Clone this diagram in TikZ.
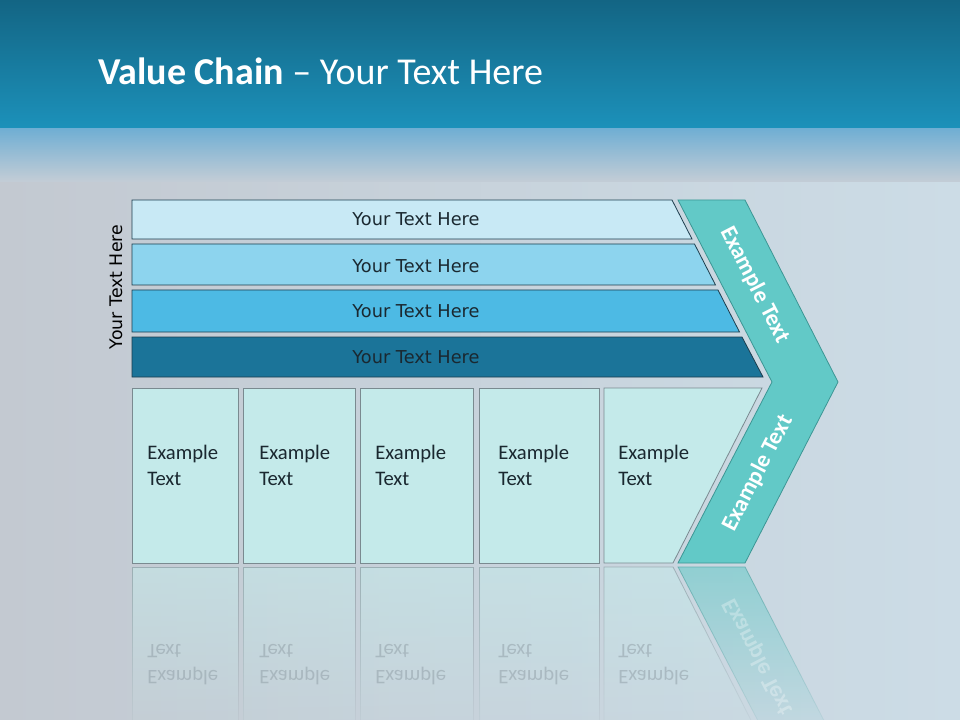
\documentclass[tikz,border=0pt]{standalone}
\usepackage{fontspec}
\setmainfont{Carlito}
\newfontfamily\dejavu{DejaVu Sans}
\usetikzlibrary{fadings}
\definecolor{bgtopA}{HTML}{136584}
\definecolor{bgtopB}{HTML}{1C91BA}
\definecolor{bgmidA}{HTML}{6FAED3}
\definecolor{bgmidB}{HTML}{C4CDD6}
\definecolor{bgleft}{HTML}{C3C9D1}
\definecolor{bgright}{HTML}{CCDCE6}
\definecolor{barA}{HTML}{C8E9F5}
\definecolor{barB}{HTML}{8DD4EE}
\definecolor{barC}{HTML}{4DBAE4}
\definecolor{barD}{HTML}{1B7499}
\definecolor{barline}{HTML}{1D3E4E}
\definecolor{boxfill}{HTML}{C4EAEA}
\definecolor{boxline}{HTML}{7A8A90}
\definecolor{chevfill}{HTML}{62C9C7}
\definecolor{chevline}{HTML}{3C9694}
\definecolor{darktext}{HTML}{1A2830}
\definecolor{refltext}{HTML}{8E9CA4}
\tikzfading[name=reflfade, top color=transparent!45, middle color=transparent!88, bottom color=transparent!100]
\tikzset{
  barshape/.style={draw=barline, line width=0.6pt},
  boxshape/.style={draw=boxline, fill=boxfill, line width=0.6pt},
  reflshape/.style={draw=boxline, fill=boxfill, line width=0.6pt, path fading=reflfade},
  bartext/.style={font=\dejavu\fontsize{13.3}{16}\selectfont, text=darktext},
  boxtext/.style={font=\fontsize{15.5}{19.5}\selectfont, text=darktext, align=left, anchor=west, inner sep=0pt},
  refltextstyle/.style={font=\fontsize{15.5}{19.5}\selectfont, text=refltext, align=left, anchor=west, inner sep=0pt, opacity=0.5},
  chevtext/.style={font=\bfseries\fontsize{17.5}{20}\selectfont, text=white, inner sep=1pt}
}
\begin{document}
\begin{tikzpicture}[x=0.75pt,y=-0.75pt]
\useasboundingbox (0,0) rectangle (960,720);
% background
\fill[left color=bgleft, right color=bgright] (0,180) rectangle (960,720);
\fill[top color=bgmidA, bottom color=bgmidB] (0,128) rectangle (960,182);
\fill[top color=bgtopA, bottom color=bgtopB] (0,0) rectangle (960,128);
% title
\node[anchor=base west, inner sep=0pt, text=white, font=\fontsize{28.5}{32}\selectfont] (title) at (98,85) {\textbf{Value Chain} -- Your Text Here};
% vertical label
\node[rotate=90, font=\dejavu\fontsize{13}{15}\selectfont, text=black] (side) at (116,287) {Your Text Here};
% bars
\path[barshape, fill=barA] (132,200) -- (672,200) -- (692,239) -- (132,239) -- cycle;
\path[barshape, fill=barB] (132,244) -- (694.5,244) -- (715.5,285) -- (132,285) -- cycle;
\path[barshape, fill=barC] (132,290) -- (718,290) -- (739.5,332) -- (132,332) -- cycle;
\path[barshape, fill=barD] (132,337) -- (742,337) -- (763,377) -- (132,377) -- cycle;
\node[bartext] (b1) at (416,219) {Your Text Here};
\node[bartext] (b2) at (416,266) {Your Text Here};
\node[bartext] (b3) at (416,311) {Your Text Here};
\node[bartext] (b4) at (416,357) {Your Text Here};
% chevron
\path[draw=chevline, fill=chevfill, line width=0.6pt] (678,200) -- (745,200) -- (838,382) -- (745,563) -- (678,563) -- (772,382) -- cycle;
\node[chevtext, rotate=-62.7] (c1) at (755,285) {Example Text};
\node[chevtext, rotate=62.7] (c2) at (758,473) {Example Text};
% boxes
\path[boxshape] (132,388) rectangle (238,563);
\path[boxshape] (243,388) rectangle (355,563);
\path[boxshape] (360,388) rectangle (473,563);
\path[boxshape] (479,388) rectangle (599,563);
\path[boxshape] (604,388) -- (762,388) -- (673,563) -- (604,563) -- cycle;
\node[boxtext] (e1) at (147,465) {Example\\Text};
\node[boxtext] (e2) at (259,465) {Example\\Text};
\node[boxtext] (e3) at (375,465) {Example\\Text};
\node[boxtext] (e4) at (498,465) {Example\\Text};
\node[boxtext] (e5) at (618,465) {Example\\Text};
% reflection
\path[reflshape] (132,567) rectangle (238,742);
\path[reflshape] (243,567) rectangle (355,742);
\path[reflshape] (360,567) rectangle (473,742);
\path[reflshape] (479,567) rectangle (599,742);
\path[reflshape] (604,567) -- (673,567) -- (762,742) -- (604,742) -- cycle;
\path[draw=chevline, fill=chevfill, line width=0.6pt, path fading=reflfade] (678,567) -- (745,567) -- (838,748) -- (772,748) -- cycle;
\begin{scope}[shift={(0,1130)}, yscale=-1, transform shape]
\node[refltextstyle] (r1) at (147,465) {Example\\Text};
\node[refltextstyle] (r2) at (259,465) {Example\\Text};
\node[refltextstyle] (r3) at (375,465) {Example\\Text};
\node[refltextstyle] (r4) at (498,465) {Example\\Text};
\node[refltextstyle] (r5) at (618,465) {Example\\Text};
\node[chevtext, rotate=62.7, text=white, opacity=0.3] (rc) at (758,473) {Example Text};
\end{scope}
\end{tikzpicture}
\end{document}
